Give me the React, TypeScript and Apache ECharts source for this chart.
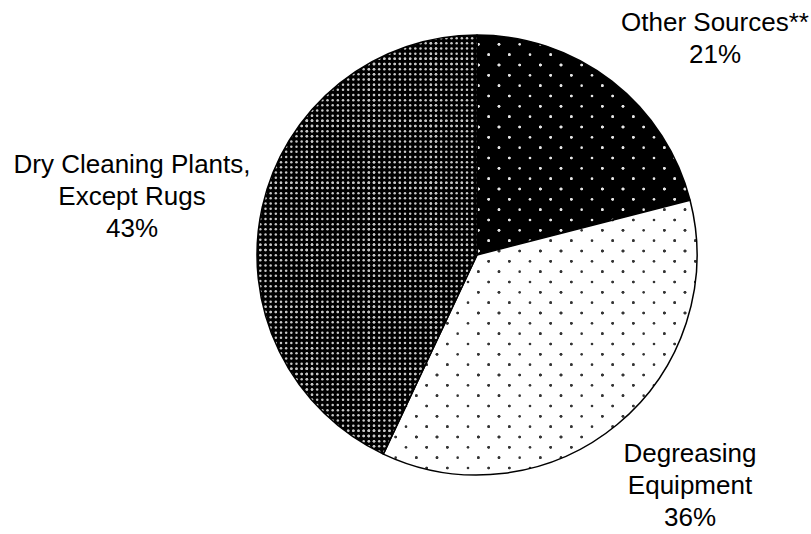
import React, { useEffect, useRef } from "react";
import * as echarts from "echarts";

const categories = ["Other Sources**", "Degreasing\nEquipment", "Dry Cleaning Plants,\nExcept Rugs"];
const values = [21, 36, 43];
const labelPos = [
  [715, 38],
  [690, 485],
  [132, 196],
];

function makeTile(bg: string, dot: string, kind: "stagger" | "grid", r: number) {
  const c = document.createElement("canvas");
  const S = 62;
  c.width = S;
  c.height = S;
  const ctx = c.getContext("2d")!;
  ctx.fillStyle = bg;
  ctx.fillRect(0, 0, S, S);
  ctx.fillStyle = dot;
  const dots: [number, number][] = [];
  if (kind === "stagger") {
    const step = S / 6;
    for (let row = 0; row <= 6; row++) {
      for (let col = -1; col <= 3; col++) {
        const x = col * (S / 3) + (row % 2 ? S / 6 : 0) + 3;
        const y = row * step + 3;
        dots.push([x, y]);
      }
    }
  } else {
    const step = S / 12;
    for (let row = -1; row <= 12; row++) {
      for (let col = -1; col <= 12; col++) {
        dots.push([col * step + 2, row * step + 2]);
      }
    }
  }
  for (const [x, y] of dots) {
    for (const dx of [-S, 0, S]) {
      for (const dy of [-S, 0, S]) {
        ctx.beginPath();
        ctx.arc(x + dx, y + dy, r, 0, Math.PI * 2);
        ctx.fill();
      }
    }
  }
  return c;
}

export default function App() {
  const ref = useRef<HTMLDivElement>(null);
  useEffect(() => {
    if (!ref.current) return;
    const chart = echarts.init(ref.current, null, { renderer: "svg" });
    const patterns = [
      makeTile("#000000", "#e8e8e8", "stagger", 1.3),
      makeTile("#ffffff", "#333333", "stagger", 1.3),
      makeTile("#000000", "#c8c8c8", "grid", 1.25),
    ];
    chart.setOption({
      animation: false,
      backgroundColor: "#ffffff",
      series: [
        {
          type: "pie",
          center: [477, 255],
          radius: 220,
          startAngle: 90,
          clockwise: true,
          silent: true,
          data: categories.map((name, i) => ({
            name,
            value: values[i],
            itemStyle: {
              color: { image: patterns[i], repeat: "repeat" },
              borderColor: "#000000",
              borderWidth: 1.5,
            },
          })),
          label: {
            show: true,
            position: "outside",
            formatter: (p: any) => `${p.name}\n${p.value}%`,
            fontFamily: "'Liberation Sans', Arial, sans-serif",
            fontSize: 26,
            lineHeight: 32,
            color: "#000000",
            align: "center",
            overflow: "none",
            width: 400,
          },
          labelLine: { show: false },
          labelLayout: (params: any) => ({
            x: labelPos[params.dataIndex][0],
            y: labelPos[params.dataIndex][1],
            align: "center",
            verticalAlign: "middle",
            hideOverlap: false,
          }),
        },
      ],
    });
    return () => chart.dispose();
  }, []);
  return (
    <div
      ref={ref}
      style={{ position: "fixed", left: 0, top: 0, width: 811, height: 534 }}
    />
  );
}
